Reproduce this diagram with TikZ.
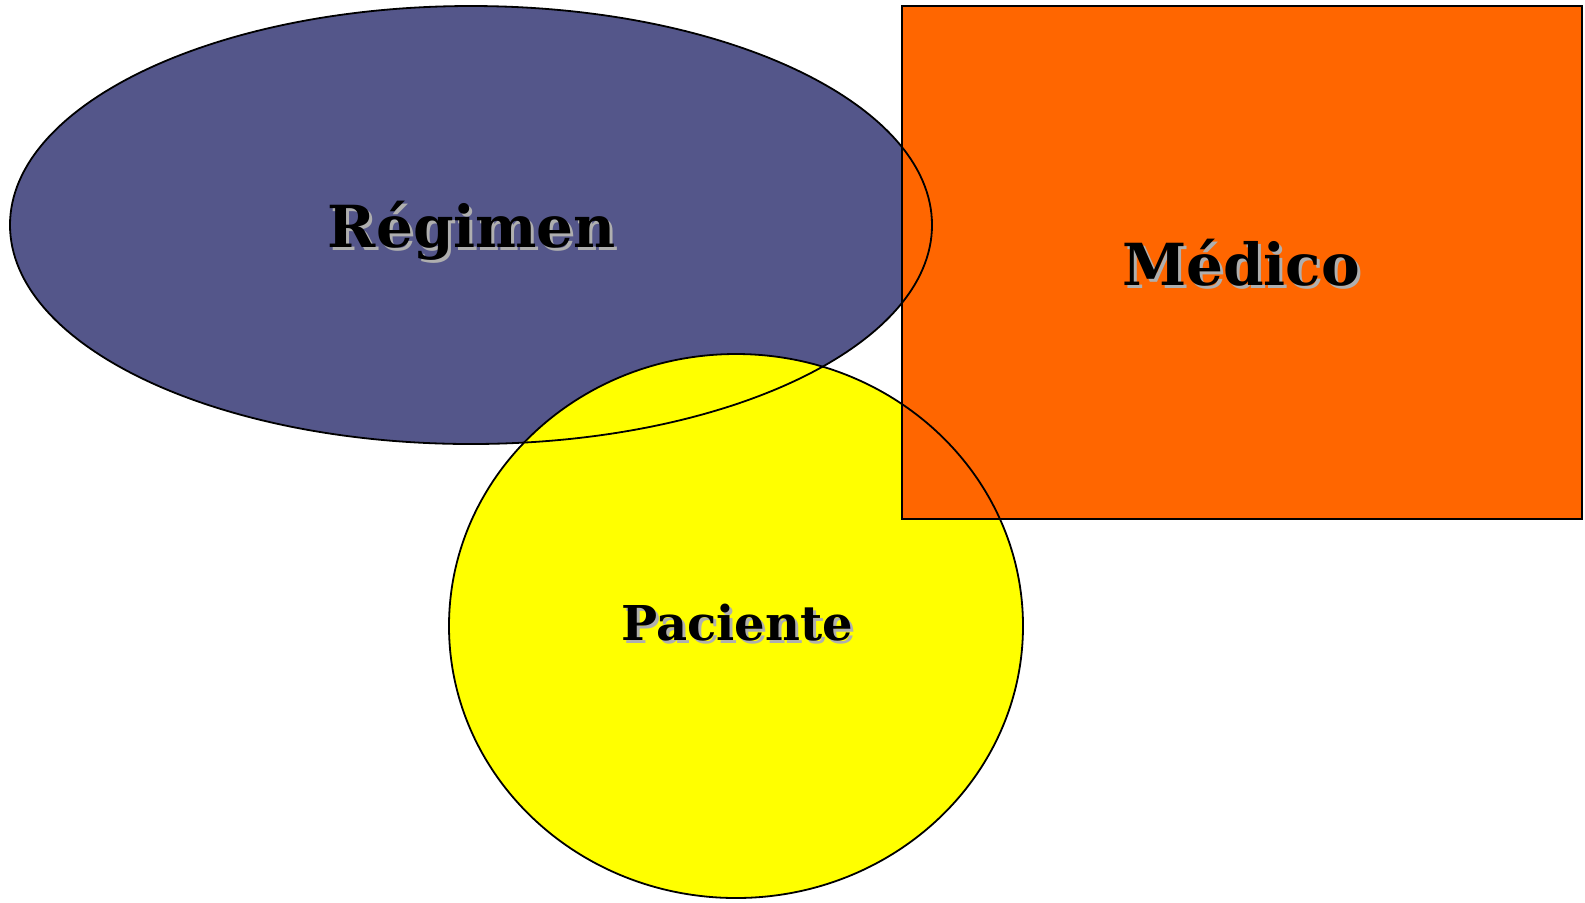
\documentclass[tikz,border=0pt]{standalone}
\usepackage{fontspec}
\setmainfont{DejaVu Serif}
\definecolor{regblue}{RGB}{84,86,138}
\definecolor{medorange}{RGB}{255,102,0}
\definecolor{pacyellow}{RGB}{255,255,0}
\definecolor{shadowgray}{RGB}{175,175,175}
\tikzset{
  outline/.style={draw=black, line width=0.9pt},
  lbl/.style={anchor=base, inner sep=0pt, font=\bfseries},
}
\newcommand{\shadowtext}[4]{%
  \node[lbl, text=shadowgray, font=\bfseries\fontsize{#3}{#3}\selectfont] at ($(#1)+(3,3)$) {#4};
  \node[lbl, text=black, font=\bfseries\fontsize{#3}{#3}\selectfont] (#2) at (#1) {#4};
}
\usetikzlibrary{calc}
\begin{document}
\begin{tikzpicture}[x=0.5pt, y=-0.5pt]
\useasboundingbox (0,0) rectangle (1585,902);
% fills
\fill[regblue] (471,225) ellipse [x radius=461, y radius=219];
\fill[pacyellow] (736,626) ellipse [x radius=287, y radius=272];
\fill[medorange] (902,6) rectangle (1582,519);
% outlines
\draw[outline] (471,225) ellipse [x radius=461, y radius=219];
\draw[outline] (736,626) ellipse [x radius=287, y radius=272];
\draw[outline] (902,6) rectangle (1582,519);
% labels
\coordinate (pr) at (472,247);
\coordinate (pm) at (1241,285);
\coordinate (pp) at (737,640);
\shadowtext{pr}{reg}{29pt}{Régimen}
\shadowtext{pm}{med}{29pt}{Médico}
\shadowtext{pp}{pac}{24pt}{Paciente}
\end{tikzpicture}
\end{document}
